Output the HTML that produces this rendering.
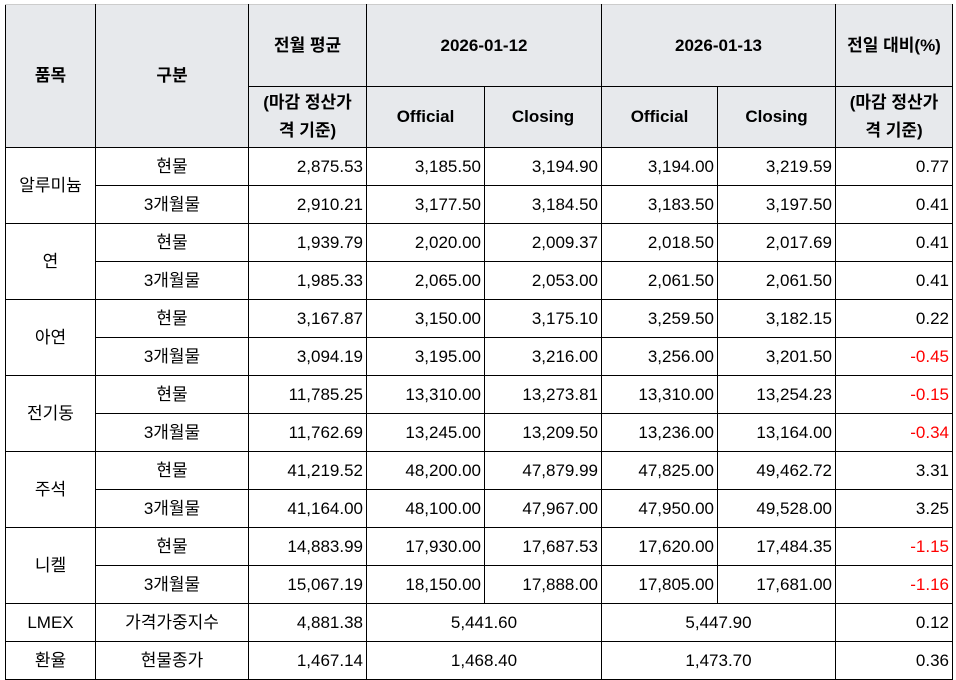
<!DOCTYPE html>
<html><head><meta charset="utf-8"><style>
body{margin:0;background:#fff;}
table{position:absolute;left:5px;top:4px;border-collapse:collapse;table-layout:fixed;font-family:"Liberation Sans","Noto Sans CJK KR",sans-serif;font-size:17px;color:#000;}
td{border:1px solid #000;padding:0 3px;overflow:hidden;white-space:nowrap;line-height:20px;vertical-align:middle;}
.h td{background:#e7e9ec;font-weight:bold;text-align:center;}
.h td.w{line-height:28px;}
tr.r td{height:37px;}
.c{text-align:center;}
.n{text-align:right;}
.neg{color:#ff0000;}
</style></head><body>
<table>
<colgroup><col style="width:90px"><col style="width:153px"><col style="width:118px"><col style="width:118px"><col style="width:117px"><col style="width:116px"><col style="width:118px"><col style="width:117px"></colgroup>
<tr class="h" style="height:82px"><td rowspan="2" style="border-top-color:#ccc">품목</td><td rowspan="2" style="border-top-color:#ccc">구분</td><td style="border-top-color:#ccc">전월 평균</td><td colspan="2" style="border-top-color:#ccc">2026-01-12</td><td colspan="2" style="border-top-color:#ccc">2026-01-13</td><td style="border-top-color:#ccc">전일 대비(%)</td></tr>
<tr class="h" style="height:61px"><td class="w">(마감 정산가<br>격 기준)</td><td>Official</td><td>Closing</td><td>Official</td><td>Closing</td><td class="w">(마감 정산가<br>격 기준)</td></tr>
<tr class="r"><td rowspan="2" class="c">알루미늄</td><td class="c">현물</td><td class="n">2,875.53</td><td class="n">3,185.50</td><td class="n">3,194.90</td><td class="n">3,194.00</td><td class="n">3,219.59</td><td class="n">0.77</td></tr>
<tr class="r"><td class="c">3개월물</td><td class="n">2,910.21</td><td class="n">3,177.50</td><td class="n">3,184.50</td><td class="n">3,183.50</td><td class="n">3,197.50</td><td class="n">0.41</td></tr>
<tr class="r"><td rowspan="2" class="c">연</td><td class="c">현물</td><td class="n">1,939.79</td><td class="n">2,020.00</td><td class="n">2,009.37</td><td class="n">2,018.50</td><td class="n">2,017.69</td><td class="n">0.41</td></tr>
<tr class="r"><td class="c">3개월물</td><td class="n">1,985.33</td><td class="n">2,065.00</td><td class="n">2,053.00</td><td class="n">2,061.50</td><td class="n">2,061.50</td><td class="n">0.41</td></tr>
<tr class="r"><td rowspan="2" class="c">아연</td><td class="c">현물</td><td class="n">3,167.87</td><td class="n">3,150.00</td><td class="n">3,175.10</td><td class="n">3,259.50</td><td class="n">3,182.15</td><td class="n">0.22</td></tr>
<tr class="r"><td class="c">3개월물</td><td class="n">3,094.19</td><td class="n">3,195.00</td><td class="n">3,216.00</td><td class="n">3,256.00</td><td class="n">3,201.50</td><td class="n neg">-0.45</td></tr>
<tr class="r"><td rowspan="2" class="c">전기동</td><td class="c">현물</td><td class="n">11,785.25</td><td class="n">13,310.00</td><td class="n">13,273.81</td><td class="n">13,310.00</td><td class="n">13,254.23</td><td class="n neg">-0.15</td></tr>
<tr class="r"><td class="c">3개월물</td><td class="n">11,762.69</td><td class="n">13,245.00</td><td class="n">13,209.50</td><td class="n">13,236.00</td><td class="n">13,164.00</td><td class="n neg">-0.34</td></tr>
<tr class="r"><td rowspan="2" class="c">주석</td><td class="c">현물</td><td class="n">41,219.52</td><td class="n">48,200.00</td><td class="n">47,879.99</td><td class="n">47,825.00</td><td class="n">49,462.72</td><td class="n">3.31</td></tr>
<tr class="r"><td class="c">3개월물</td><td class="n">41,164.00</td><td class="n">48,100.00</td><td class="n">47,967.00</td><td class="n">47,950.00</td><td class="n">49,528.00</td><td class="n">3.25</td></tr>
<tr class="r"><td rowspan="2" class="c">니켈</td><td class="c">현물</td><td class="n">14,883.99</td><td class="n">17,930.00</td><td class="n">17,687.53</td><td class="n">17,620.00</td><td class="n">17,484.35</td><td class="n neg">-1.15</td></tr>
<tr class="r"><td class="c">3개월물</td><td class="n">15,067.19</td><td class="n">18,150.00</td><td class="n">17,888.00</td><td class="n">17,805.00</td><td class="n">17,681.00</td><td class="n neg">-1.16</td></tr>
<tr class="r"><td class="c">LMEX</td><td class="c">가격가중지수</td><td class="n">4,881.38</td><td colspan="2" class="c">5,441.60</td><td colspan="2" class="c">5,447.90</td><td class="n">0.12</td></tr>
<tr class="r"><td class="c">환율</td><td class="c">현물종가</td><td class="n">1,467.14</td><td colspan="2" class="c">1,468.40</td><td colspan="2" class="c">1,473.70</td><td class="n">0.36</td></tr>
</table>
</body></html>
